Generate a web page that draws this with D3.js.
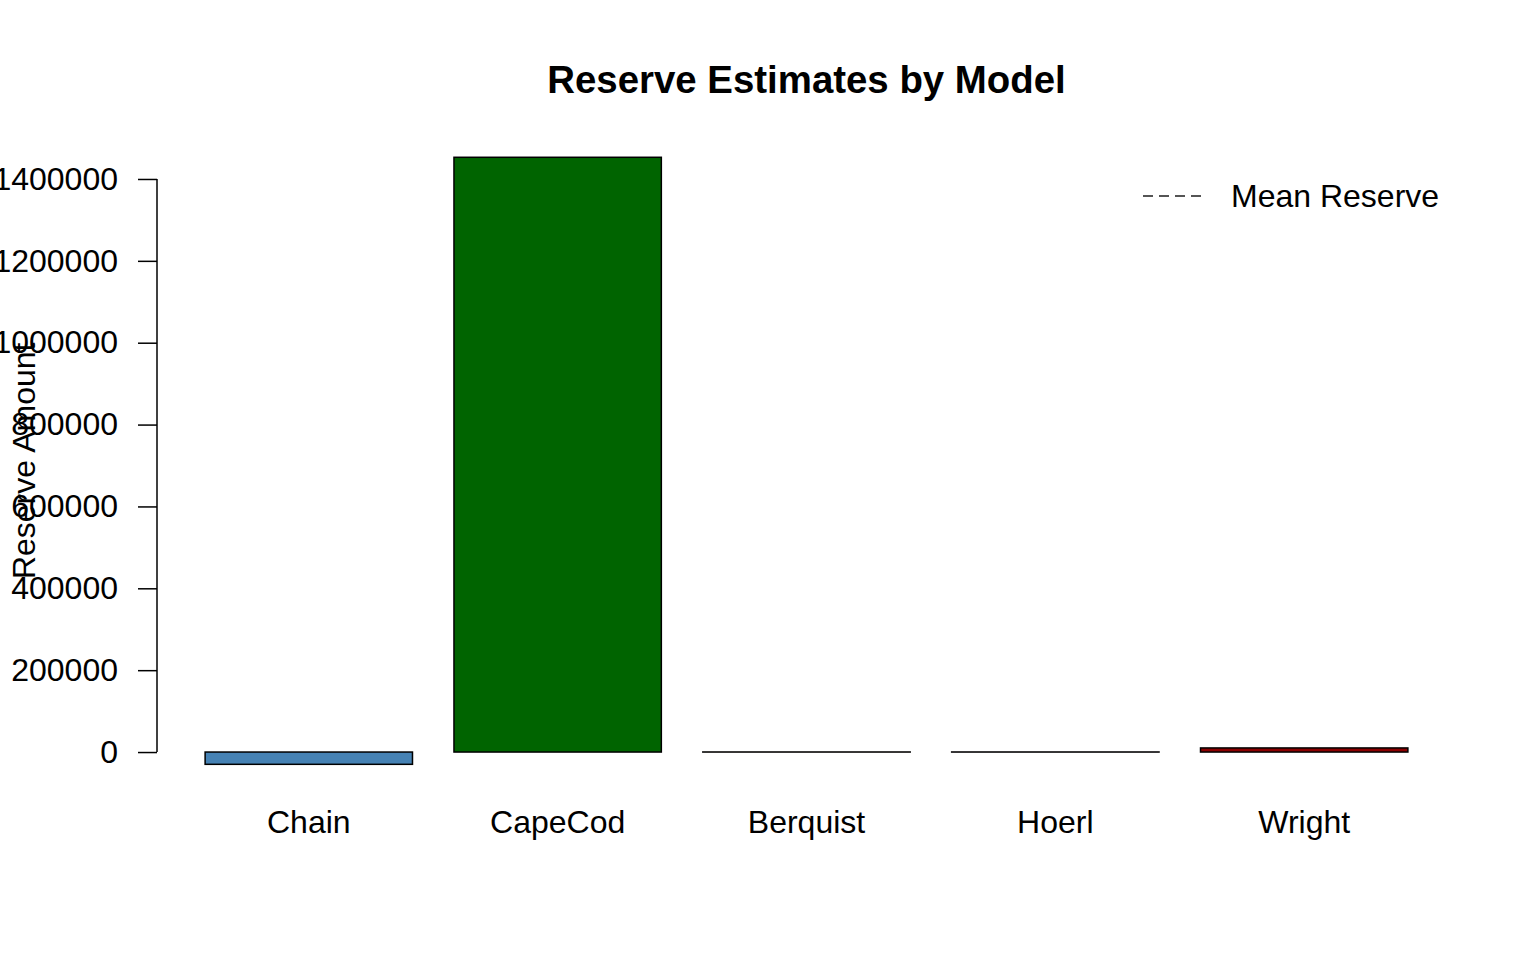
<!DOCTYPE html>
<html><head><meta charset="utf-8">
<script src="https://cdn.jsdelivr.net/npm/d3@7"></script>
<style>body{margin:0;background:#fff}text{font-family:"Liberation Sans",Arial,sans-serif}</style>
</head><body>
<svg id="c" width="1536" height="960"></svg>
<script>
const categories = ["Chain","CapeCod","Berquist","Hoerl","Wright"];
const reserves = [-30000, 1453000, 150, 150, 10000];
const barColors = ["#4682B4","#006400","#FF8C00","#800080","#8B0000"];
const yTicks = [0,200000,400000,600000,800000,1000000,1200000,1400000];
const titleText = "Reserve Estimates by Model";
const yLabel = "Reserve Amount";
const legendLabel = "Mean Reserve";

const svg = d3.select("#c");
const W = 1536, H = 960;
const plot = {left:157, right:1456, top:133, bottom:788.6};

// R barplot geometry: width 1, space 0.2
const wl = categories.map((d,i)=>0.2 + i*1.2);
const xmin = 0.2, xmax = 0.2 + categories.length*1.2 - 0.2;
const xp = (xmax-xmin)*0.04;
const x = d3.scaleLinear().domain([xmin-xp, xmax+xp]).range([plot.left, plot.right]);
const ylo = Math.min(0, d3.min(reserves)), yhi = Math.max(0, d3.max(reserves));
const yp = (yhi-ylo)*0.04;
const y = d3.scaleLinear().domain([ylo-yp, yhi+yp]).range([plot.bottom, plot.top]);

svg.append("rect").attr("width",W).attr("height",H).attr("fill","#fff");

// bars
svg.append("g").selectAll("rect").data(reserves).join("rect")
  .attr("x",(d,i)=>x(wl[i]))
  .attr("width",(d,i)=>x(wl[i]+1)-x(wl[i]))
  .attr("y",d=>y(Math.max(0,d)))
  .attr("height",d=>Math.abs(y(d)-y(0)))
  .attr("fill",(d,i)=>barColors[i])
  .attr("stroke","#000").attr("stroke-width",1.5);

// y axis
const ax = svg.append("g").attr("transform",`translate(${plot.left},0)`)
  .call(d3.axisLeft(y).tickValues(yTicks).tickFormat(d3.format("d")).tickSize(19).tickPadding(20));
ax.select(".domain").remove();
ax.selectAll(".tick line").attr("stroke","#000").attr("stroke-width",1.5);
ax.selectAll(".tick text").attr("font-size",32).attr("fill","#000").attr("font-family","Liberation Sans, Arial, sans-serif");
ax.append("line").attr("x1",0).attr("x2",0)
  .attr("y1",y(yTicks[0])).attr("y2",y(yTicks[yTicks.length-1]))
  .attr("stroke","#000").attr("stroke-width",1.5);

// x labels
svg.append("g").selectAll("text").data(categories).join("text")
  .attr("x",(d,i)=>x(wl[i]+0.5)).attr("y",833)
  .attr("text-anchor","middle").attr("font-size",32).attr("fill","#000")
  .text(d=>d);

// title
svg.append("text").attr("x",(plot.left+plot.right)/2).attr("y",93)
  .attr("text-anchor","middle").attr("font-size",38.4).attr("font-weight","bold")
  .text(titleText);

// y label
svg.append("text").attr("transform",`translate(35,${(plot.top+plot.bottom)/2}) rotate(-90)`)
  .attr("text-anchor","middle").attr("font-size",32).text(yLabel);

// legend
svg.append("line").attr("x1",1143).attr("x2",1203).attr("y1",196).attr("y2",196)
  .attr("stroke","#555").attr("stroke-width",2).attr("stroke-dasharray","10,6");
svg.append("text").attr("x",1231).attr("y",207).attr("font-size",32).text(legendLabel);
</script>
</body></html>
